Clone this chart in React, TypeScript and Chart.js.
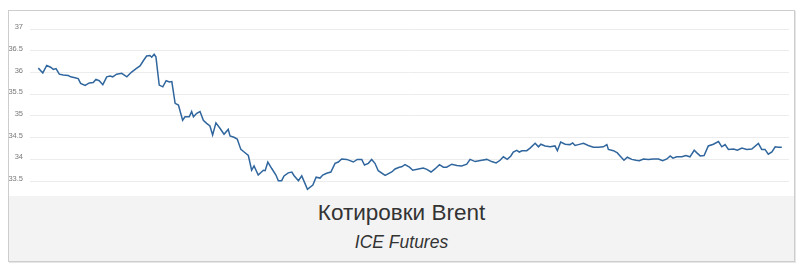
import React, { useEffect, useRef } from "react";
import { Chart, registerables } from "chart.js";

Chart.register(...registerables);

// time index (sample slot) of each reading
const times: number[] = [
  0.1, 1.6, 2.9, 4.2, 5.1, 6.0, 7.1, 8.4, 10.1, 10.9, 12.3, 13.4, 14.2, 15.7, 17.1, 18.4, 19.3, 20.4, 21.6, 22.9,
  24.0, 24.9, 26.2, 27.9, 29.6, 31.2, 32.7, 34.0, 35.1, 36.2, 37.3, 37.9, 38.7, 39.3, 40.4, 41.6, 42.7, 43.8, 44.6, 45.7,
  46.8, 48.2, 49.0, 50.4, 51.2, 51.8, 52.9, 54.0, 55.1, 56.2, 57.3, 58.2, 59.3, 60.7, 62.0, 63.4, 64.0, 65.3, 66.4, 67.6,
  68.7, 70.1, 71.2, 72.0, 73.4, 75.1, 75.7, 76.6, 77.9, 79.3, 80.1, 81.2, 82.0, 83.4, 84.6, 85.3, 86.8, 87.9, 89.8, 91.6,
  92.7, 94.0, 94.9, 96.2, 97.6, 99.0, 100.1, 101.2, 102.9, 105.1, 106.4, 107.9, 108.8, 110.1, 111.2, 112.3, 113.4, 115.7, 117.9, 119.0,
  120.4, 121.2, 122.3, 123.8, 124.9, 126.8, 128.4, 129.6, 131.0, 132.3, 133.8, 135.1, 136.2, 137.9, 139.6, 141.2, 142.9, 144.0, 145.7, 147.9,
  149.6, 151.2, 152.7, 154.0, 155.1, 156.4, 157.6, 158.4, 159.6, 160.4, 161.3, 162.9, 164.0, 165.7, 166.8, 167.6, 169.0, 170.7, 172.3, 173.1,
  174.2, 175.7, 177.3, 178.2, 179.0, 180.1, 181.8, 183.4, 185.1, 186.8, 188.4, 189.6, 190.1, 191.8, 193.1, 194.0, 195.3, 196.4, 197.9, 199.3,
  200.4, 201.8, 203.4, 205.1, 206.8, 208.2, 209.6, 210.7, 211.6, 212.9, 214.6, 215.9, 217.3, 218.7, 219.6, 220.7, 222.0, 223.4, 225.1, 226.8,
  227.9, 229.0, 230.1, 231.8, 233.1, 234.6, 236.2, 237.9, 240.1, 241.2, 242.3, 243.4, 244.6, 245.7, 246.8, 247.9,
];

// Brent quotes
const prices: number[] = [
  36.10, 35.99, 36.16, 36.12, 36.07, 36.09, 35.96, 35.94, 35.93, 35.90, 35.88, 35.86, 35.75, 35.70, 35.76, 35.77, 35.84, 35.81, 35.72, 35.90,
  35.92, 35.90, 35.96, 35.98, 35.90, 36.01, 36.09, 36.15, 36.27, 36.38, 36.39, 36.35, 36.42, 36.36, 35.71, 35.67, 35.81, 35.78, 35.79, 35.29,
  35.25, 34.90, 34.98, 34.98, 35.10, 34.98, 35.06, 35.10, 34.90, 34.83, 34.77, 34.56, 34.84, 34.71, 34.58, 34.69, 34.54, 34.51, 34.47, 34.23,
  34.17, 34.09, 33.75, 33.85, 33.64, 33.75, 33.74, 33.94, 33.79, 33.64, 33.51, 33.51, 33.62, 33.69, 33.71, 33.63, 33.51, 33.62, 33.31, 33.41,
  33.59, 33.57, 33.64, 33.68, 33.71, 33.91, 33.94, 34.01, 34.00, 33.94, 34.00, 34.00, 33.87, 33.91, 34.00, 33.91, 33.74, 33.63, 33.71, 33.78,
  33.82, 33.83, 33.88, 33.82, 33.75, 33.78, 33.80, 33.77, 33.71, 33.78, 33.88, 33.82, 33.82, 33.89, 33.86, 33.85, 33.89, 34.00, 33.95, 33.98,
  34.00, 33.95, 33.92, 33.98, 34.06, 34.00, 34.08, 34.17, 34.21, 34.17, 34.20, 34.20, 34.26, 34.37, 34.29, 34.35, 34.31, 34.29, 34.31, 34.20,
  34.40, 34.35, 34.34, 34.38, 34.32, 34.34, 34.37, 34.32, 34.28, 34.28, 34.29, 34.34, 34.23, 34.20, 34.15, 34.08, 33.98, 34.05, 34.00, 33.98,
  33.97, 34.01, 34.00, 34.01, 34.01, 33.97, 34.01, 34.08, 34.03, 34.06, 34.06, 34.09, 34.06, 34.21, 34.15, 34.08, 34.09, 34.31, 34.35, 34.41,
  34.29, 34.34, 34.23, 34.24, 34.21, 34.26, 34.23, 34.24, 34.37, 34.23, 34.23, 34.12, 34.17, 34.29, 34.28, 34.28,
];

const yTicks: number[] = [33.5, 34, 34.5, 35, 35.5, 36, 36.5, 37];
const titleText = "Котировки Brent";
const subtitleText = "ICE Futures";

export default function App() {
  const ref = useRef<HTMLCanvasElement | null>(null);

  useEffect(() => {
    if (!ref.current) return;
    const points = times.map((t, i) => ({ x: t, y: prices[i] }));
    const chart = new Chart(ref.current, {
      type: "line",
      data: {
        datasets: [
          {
            data: points,
            borderColor: "#30669e",
            borderWidth: 1.5,
            pointRadius: 0,
            tension: 0,
            fill: false,
          },
        ],
      },
      options: {
        animation: false,
        responsive: false,
        maintainAspectRatio: false,
        layout: { padding: { top: 18, bottom: 4, left: 0, right: 5 } },
        plugins: {
          legend: { display: false },
          tooltip: { enabled: false },
          title: { display: false },
        },
        scales: {
          x: {
            type: "linear",
            min: -2.67,
            max: 250.3,
            display: false,
          },
          y: {
            min: 33.25,
            max: 37,
            afterBuildTicks: (scale: any) => {
              scale.ticks = yTicks.map((v) => ({ value: v }));
            },
            afterFit: (scale: any) => {
              scale.width = 21;
              scale.paddingTop = 0;
              scale.paddingBottom = 0;
            },
            border: { display: false },
            grid: { color: "#ececec", lineWidth: 1, drawTicks: false },
            ticks: {
              padding: 7,
              labelOffset: -2,
              color: "#7a7a7a",
              font: { family: "'Liberation Sans', Arial, sans-serif", size: 7.5 },
              callback: (v: any) => String(v),
            },
          },
        },
      },
    });
    return () => chart.destroy();
  }, []);

  return (
    <div
      style={{
        position: "absolute",
        left: 8,
        top: 10,
        width: 785,
        height: 250,
        border: "1px solid #cdcdcd",
        boxShadow: "1px 1px 0 #e6e6e6",
        background: "#ffffff",
        fontFamily: "'Liberation Sans', Arial, sans-serif",
      }}
    >
      <canvas ref={ref} width={785} height={185} style={{ display: "block", width: 785, height: 185 }} />
      <div style={{ position: "relative", height: 65, background: "#f3f3f3" }}>
        <div
          style={{
            position: "absolute",
            left: 0,
            right: 0,
            top: 17,
            transform: "translateY(-50%)",
            textAlign: "center",
            fontSize: 22.5,
            color: "#333333",
            lineHeight: 1,
          }}
        >
          {titleText}
        </div>
        <div
          style={{
            position: "absolute",
            left: 0,
            right: 0,
            top: 47,
            transform: "translateY(-50%)",
            textAlign: "center",
            fontSize: 17.5,
            fontStyle: "italic",
            color: "#333333",
            lineHeight: 1,
          }}
        >
          {subtitleText}
        </div>
      </div>
    </div>
  );
}
